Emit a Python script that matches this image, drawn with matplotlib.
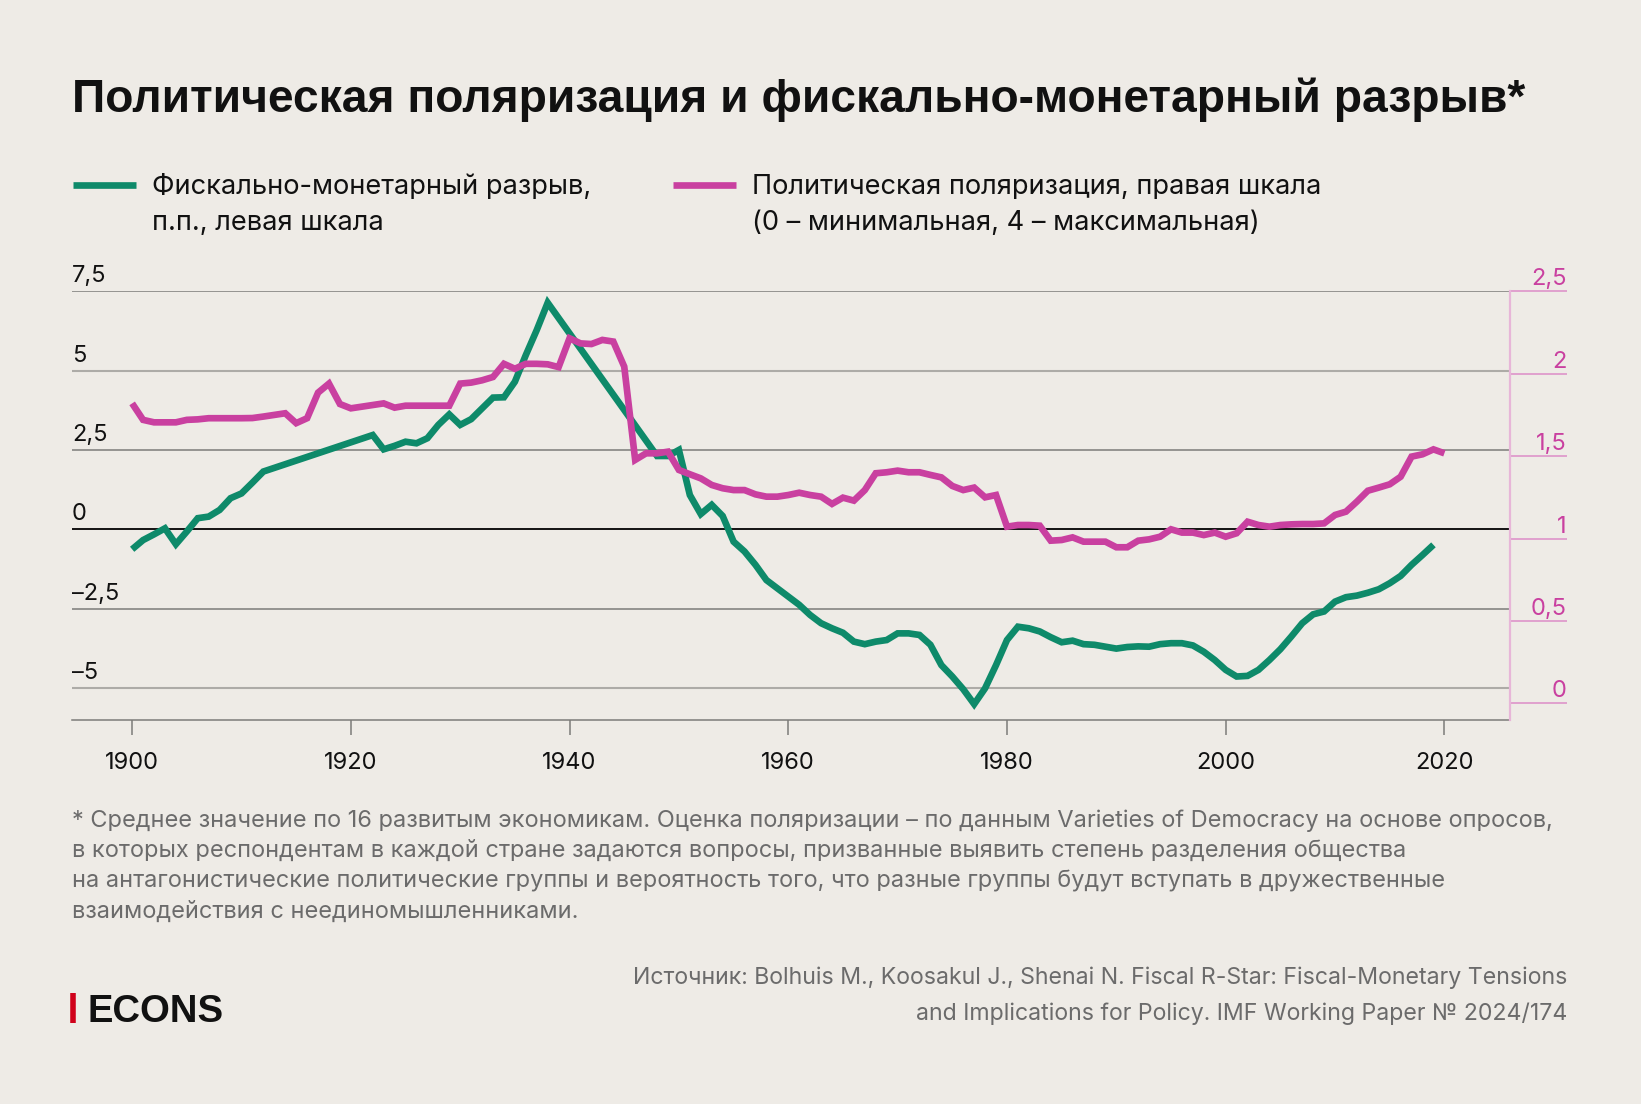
import matplotlib.pyplot as plt
from matplotlib.lines import Line2D
from matplotlib import transforms

plt.rcParams['font.family'] = ['Inter', 'DejaVu Sans']

# данные: фискально-монетарный разрыв (левая шкала), п.п.
gap_years = [1900, 1901, 1902, 1903, 1904, 1905, 1906, 1907, 1908, 1909, 1910, 1911, 1912,
             1922, 1923, 1924, 1925, 1926, 1927, 1928, 1929, 1930, 1931, 1932, 1933, 1934,
             1935, 1936, 1937, 1938,
             1948, 1949, 1950, 1951, 1952, 1953, 1954, 1955, 1956, 1957, 1958, 1959, 1960,
             1961, 1962, 1963, 1964, 1965, 1966, 1967, 1968, 1969, 1970, 1971, 1972, 1973,
             1974, 1975, 1976, 1977, 1978, 1979, 1980, 1981, 1982, 1983, 1984, 1985, 1986,
             1987, 1988, 1989, 1990, 1991, 1992, 1993, 1994, 1995, 1996, 1997, 1998, 1999,
             2000, 2001, 2002, 2003, 2004, 2005, 2006, 2007, 2008, 2009, 2010, 2011, 2012,
             2013, 2014, 2015, 2016, 2017, 2018, 2019]
gap_values = [-0.63, -0.34, -0.16, 0.03, -0.47, -0.07, 0.35, 0.40, 0.61, 0.98, 1.13, 1.47, 1.82,
              2.97, 2.52, 2.63, 2.76, 2.71, 2.87, 3.29, 3.62, 3.29, 3.47, 3.81, 4.15, 4.16,
              4.65, 5.49, 6.28, 7.14,
              2.31, 2.31, 2.50, 1.08, 0.48, 0.77, 0.42, -0.39, -0.70, -1.12, -1.60, -1.86, -2.12,
              -2.38, -2.70, -2.96, -3.12, -3.26, -3.54, -3.62, -3.54, -3.49, -3.28, -3.28, -3.33, -3.64,
              -4.28, -4.64, -5.04, -5.51, -5.01, -4.28, -3.49, -3.07, -3.12, -3.22, -3.40, -3.56, -3.51,
              -3.62, -3.64, -3.70, -3.76, -3.71, -3.69, -3.70, -3.62, -3.59, -3.59, -3.66, -3.86, -4.12,
              -4.43, -4.64, -4.62, -4.43, -4.12, -3.78, -3.38, -2.96, -2.68, -2.59, -2.28, -2.14, -2.09,
              -2.00, -1.89, -1.70, -1.47, -1.12, -0.81, -0.49]

# данные: политическая поляризация (правая шкала)
pol_years = list(range(1900, 2021))
pol_values = [1.82, 1.72, 1.705, 1.705, 1.705, 1.72, 1.723, 1.73, 1.73, 1.73,
              1.73, 1.731, 1.74, 1.75, 1.76, 1.70, 1.73, 1.885, 1.94, 1.816,
              1.79, 1.80, 1.81, 1.82, 1.794, 1.806, 1.806, 1.806, 1.806, 1.806,
              1.94, 1.946, 1.96, 1.98, 2.06, 2.03, 2.06, 2.06, 2.057, 2.04,
              2.215, 2.184, 2.18, 2.205, 2.195, 2.043, 1.477, 1.517, 1.517, 1.527,
              1.416, 1.39, 1.365, 1.325, 1.305, 1.294, 1.294, 1.268, 1.254, 1.254,
              1.264, 1.278, 1.264, 1.254, 1.21, 1.248, 1.23, 1.294, 1.396, 1.402,
              1.412, 1.402, 1.402, 1.386, 1.371, 1.319, 1.294, 1.309, 1.25, 1.264,
              1.072, 1.082, 1.082, 1.078, 0.987, 0.991, 1.007, 0.981, 0.981, 0.981,
              0.947, 0.947, 0.987, 0.995, 1.011, 1.056, 1.036, 1.036, 1.021, 1.036,
              1.011, 1.032, 1.102, 1.082, 1.072, 1.082, 1.086, 1.088, 1.088, 1.092,
              1.143, 1.163, 1.224, 1.29, 1.309, 1.329, 1.375, 1.497, 1.511, 1.541,
              1.517]

left_ticks = [7.5, 5, 2.5, 0, -2.5, -5]
left_labels = ['7,5', '5', '2,5', '0', '–2,5', '–5']
right_ticks = [2.5, 2, 1.5, 1, 0.5, 0]
right_labels = ['2,5', '2', '1,5', '1', '0,5', '0']
x_ticks = [1900, 1920, 1940, 1960, 1980, 2000, 2020]

bg = '#EEEBE6'
green = '#0E8A6A'
pink = '#C940A0'
pink_light = '#E7B6D8'
grid_dark = '#7C7B79'
grid_light = '#ADABA7'
title_font = ['Liberation Sans', 'DejaVu Sans']

W, H = 1641, 1104
fig = plt.figure(figsize=(W / 100, H / 100), dpi=100, facecolor=bg)


def fx(px):
    return px / W


def fy(py):
    return 1 - py / H


ax = fig.add_axes([fx(72), fy(720), (1510 - 72) / W, (720 - 291.3) / H])
ax.set_facecolor(bg)
ax.set_xlim(1894.5, 2026.0)
ax.set_ylim(-6.01, 7.5)

# сетка левой шкалы
for t in left_ticks:
    if t in (5, -5):
        ax.axhline(t, color=grid_light, lw=1.5, zorder=1)
    else:
        ax.axhline(t, color=grid_dark, lw=1.1, zorder=1)
ax.axhline(0, color='black', lw=1.2, zorder=1)

ax.plot(gap_years, gap_values, color=green, lw=4.8, solid_joinstyle='miter',
        solid_capstyle='butt', zorder=3)

for s in ['top', 'left', 'right']:
    ax.spines[s].set_visible(False)
ax.spines['bottom'].set_color(grid_dark)
ax.spines['bottom'].set_linewidth(1.1)
ax.set_yticks([])
ax.set_xticks(x_ticks)
ax.set_xticklabels([str(x) for x in x_ticks])
ax.tick_params(axis='x', length=11, width=1.1, color=grid_dark, pad=12,
               labelsize=17, labelcolor='#111111')

trans_l = transforms.offset_copy(ax.get_yaxis_transform(), fig=fig, y=9, units='dots')
for t, lab in zip(left_ticks, left_labels):
    ax.text(0, t, lab, transform=trans_l, ha='left', va='baseline', fontsize=17,
            color='#111111')

# правая шкала
ax2 = ax.twinx()
ax2.set_ylim(-0.101, 2.5)
ax2.plot(pol_years, pol_values, color=pink, lw=4.8, solid_joinstyle='miter',
         solid_capstyle='butt', zorder=4)
for s in ['top', 'left', 'bottom']:
    ax2.spines[s].set_visible(False)
ax2.spines['right'].set_color(pink_light)
ax2.spines['right'].set_linewidth(1.6)
ax2.set_yticks(right_ticks)
ax2.tick_params(axis='y', length=41, width=1.1, color='#DC8DC7', labelright=False)

trans_r = transforms.offset_copy(
    transforms.blended_transform_factory(ax2.transAxes, ax2.transData),
    fig=fig, y=6, units='dots')
x_lab = (1566.7 - 72) / (1510 - 72)
for t, lab in zip(right_ticks, right_labels):
    ax2.text(x_lab, t, lab, transform=trans_r, ha='right', va='baseline', fontsize=17,
             color=pink, clip_on=False)

# заголовок
fig.text(fx(72), fy(112.3), 'Политическая поляризация и фискально-монетарный разрыв*',
         fontsize=33.2, weight='bold', color='#111111', va='baseline', family=title_font)

# легенда
fig.add_artist(Line2D([fx(73), fx(136)], [fy(185), fy(185)], color=green, lw=4.8,
                      solid_capstyle='butt'))
fig.add_artist(Line2D([fx(673), fx(736)], [fy(185), fy(185)], color=pink, lw=4.8,
                      solid_capstyle='butt'))
fig.text(fx(152), fy(187), 'Фискально-монетарный разрыв,', fontsize=19.6, va='center',
         color='#111111')
fig.text(fx(152), fy(223), 'п.п., левая шкала', fontsize=19.6, va='center', color='#111111')
fig.text(fx(751.5), fy(187), 'Политическая поляризация, правая шкала', fontsize=19.6,
         va='center', color='#111111')
fig.text(fx(751.5), fy(223), '(0 – минимальная, 4 – максимальная)', fontsize=19.6,
         va='center', color='#111111')

# примечание
note = ['* Среднее значение по 16 развитым экономикам. Оценка поляризации – по данным Varieties of Democracy на основе опросов,',
        'в которых респондентам в каждой стране задаются вопросы, призванные выявить степень разделения общества',
        'на антагонистические политические группы и вероятность того, что разные группы будут вступать в дружественные',
        'взаимодействия с неединомышленниками.']
for i, line in enumerate(note):
    fig.text(fx(72), fy(820.5 + 30.4 * i), line, fontsize=16.95, va='center', color='#6B6B6B')

fig.text(fx(1567), fy(978),
         'Источник: Bolhuis M., Koosakul J., Shenai N. Fiscal R-Star: Fiscal-Monetary Tensions',
         fontsize=16.65, va='center', ha='right', color='#6B6B6B')
fig.text(fx(1567), fy(1013.5), 'and Implications for Policy. IMF Working Paper № 2024/174',
         fontsize=16.65, va='center', ha='right', color='#6B6B6B')

# логотип
fig.add_artist(Line2D([fx(73), fx(73)], [fy(993), fy(1023)], color='#D0021B', lw=4,
                      solid_capstyle='butt'))
fig.text(fx(87), fy(1021.7), 'ECONS', fontsize=27.5, weight='bold', va='baseline',
         color='#111111', family=title_font)

fig.savefig('out.png', dpi=100, facecolor=bg)
